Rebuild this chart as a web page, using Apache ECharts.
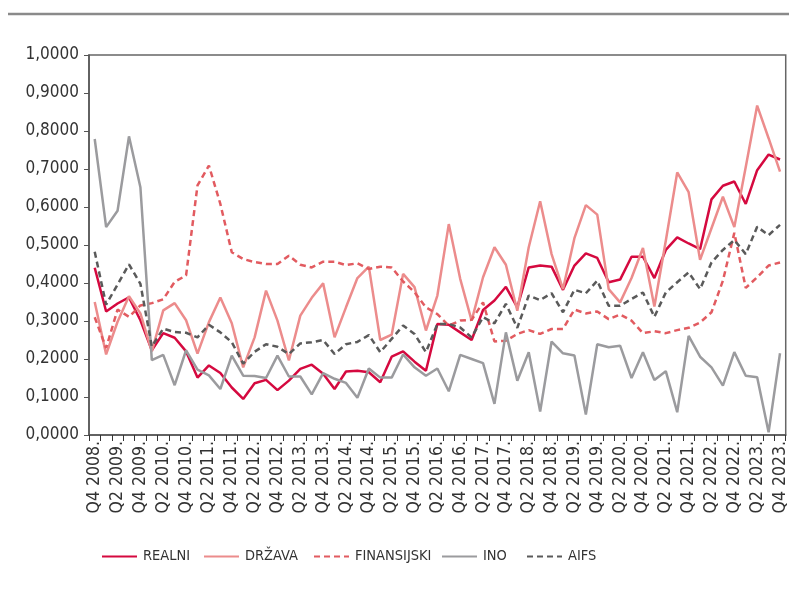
<!DOCTYPE html>
<html>
<head>
<meta charset="utf-8">
<script src="https://cdn.jsdelivr.net/npm/echarts@6/dist/echarts.min.js"></script>
<style>
html,body{margin:0;padding:0;background:#fff;}
#c{width:789px;height:594px;}
</style>
</head>
<body>
<div id="c"></div>
<script>
const categories = [
"Q4 2008.","Q1 2009.","Q2 2009.","Q3 2009.","Q4 2009.",
"Q1 2010.","Q2 2010.","Q3 2010.","Q4 2010.",
"Q1 2011.","Q2 2011.","Q3 2011.","Q4 2011.",
"Q1 2012.","Q2 2012.","Q3 2012.","Q4 2012.",
"Q1 2013.","Q2 2013.","Q3 2013.","Q4 2013.",
"Q1 2014.","Q2 2014.","Q3 2014.","Q4 2014.",
"Q1 2015.","Q2 2015.","Q3 2015.","Q4 2015.",
"Q1 2016.","Q2 2016.","Q3 2016.","Q4 2016.",
"Q1 2017.","Q2 2017.","Q3 2017.","Q4 2017.",
"Q1 2018.","Q2 2018.","Q3 2018.","Q4 2018.",
"Q1 2019.","Q2 2019.","Q3 2019.","Q4 2019.",
"Q1 2020.","Q2 2020.","Q3 2020.","Q4 2020.",
"Q1 2021.","Q2 2021.","Q3 2021.","Q4 2021.",
"Q1 2022.","Q2 2022.","Q3 2022.","Q4 2022.",
"Q1 2023.","Q2 2023.","Q3 2023.","Q4 2023."
];
const realni = [0.440,0.325,0.346,0.362,0.302,0.223,0.268,0.256,0.220,0.151,0.183,0.163,0.125,0.095,0.136,0.145,0.118,0.143,0.174,0.185,0.161,0.121,0.167,0.169,0.165,0.139,0.206,0.220,0.193,0.169,0.292,0.290,0.270,0.250,0.329,0.354,0.390,0.336,0.441,0.446,0.443,0.382,0.446,0.478,0.466,0.402,0.409,0.469,0.469,0.413,0.487,0.520,0.504,0.489,0.620,0.656,0.667,0.608,0.697,0.738,0.725];
const drzava = [0.350,0.212,0.298,0.365,0.320,0.220,0.328,0.347,0.302,0.214,0.297,0.362,0.294,0.178,0.257,0.380,0.301,0.196,0.314,0.361,0.399,0.257,0.336,0.413,0.443,0.250,0.264,0.424,0.389,0.275,0.367,0.555,0.411,0.301,0.415,0.494,0.448,0.327,0.494,0.615,0.476,0.384,0.518,0.605,0.580,0.384,0.349,0.413,0.492,0.338,0.511,0.691,0.639,0.461,0.544,0.627,0.547,0.705,0.867,0.781,0.693];
const finansijski = [0.310,0.229,0.330,0.311,0.341,0.347,0.357,0.403,0.420,0.657,0.709,0.608,0.481,0.463,0.455,0.450,0.450,0.472,0.448,0.441,0.456,0.456,0.447,0.452,0.437,0.443,0.441,0.404,0.376,0.336,0.318,0.288,0.301,0.303,0.349,0.246,0.248,0.266,0.276,0.266,0.279,0.279,0.330,0.320,0.325,0.305,0.317,0.301,0.268,0.273,0.268,0.276,0.282,0.296,0.323,0.406,0.532,0.387,0.415,0.446,0.454];
const ino = [0.779,0.547,0.590,0.786,0.652,0.197,0.211,0.131,0.223,0.172,0.157,0.121,0.209,0.156,0.155,0.150,0.209,0.154,0.154,0.107,0.163,0.148,0.137,0.098,0.175,0.151,0.151,0.212,0.178,0.156,0.175,0.115,0.211,0.200,0.189,0.082,0.270,0.143,0.218,0.062,0.246,0.215,0.209,0.054,0.239,0.231,0.235,0.150,0.218,0.145,0.168,0.060,0.261,0.206,0.178,0.130,0.218,0.156,0.152,0.007,0.215];
const aifs = [0.482,0.343,0.396,0.449,0.398,0.233,0.280,0.271,0.269,0.257,0.290,0.270,0.244,0.188,0.219,0.239,0.232,0.213,0.241,0.244,0.250,0.213,0.239,0.245,0.263,0.218,0.253,0.288,0.266,0.218,0.292,0.292,0.283,0.257,0.310,0.294,0.345,0.282,0.367,0.355,0.373,0.323,0.382,0.373,0.406,0.340,0.340,0.358,0.375,0.311,0.375,0.402,0.428,0.384,0.454,0.487,0.513,0.476,0.548,0.526,0.553];
const seriesNames = ["REALNI","DRŽAVA","FINANSIJSKI","INO","AIFS"];

const FONT = '"Liberation Sans Narrow", "DejaVu Sans Condensed", "Roboto", sans-serif';
const chart = echarts.init(document.getElementById('c'), null, {renderer:'canvas'});
function mk(name, data, color, dashed){
  return {
    name, type:'line', data, symbol:'none', smooth:false,
    lineStyle:{color, width:2.5, type: dashed ? [6,4] : 'solid'},
    itemStyle:{color},
    emphasis:{disabled:true}
  };
}
const legendLeft = [96, 198, 308, 436, 521];
const legends = seriesNames.map((n,i)=>({
  left:legendLeft[i], top:544, itemWidth:35, itemHeight:10, itemGap:0,
  itemStyle:{opacity:0},
  textStyle:{fontFamily:FONT, fontSize:14.5, color:'#333', padding:[0,0,0,1]},
  data:[n], selectedMode:false
}));
chart.setOption({
  animation:false,
  backgroundColor:'#fff',
  graphic:[{type:'line', shape:{x1:8,y1:14,x2:789,y2:14}, style:{stroke:'#8a8a8a', lineWidth:2.5}}],
  grid:{left:89, top:55, right:2, bottom:159, show:true, borderColor:'#666', borderWidth:1.5, backgroundColor:'transparent'},
  xAxis:{
    type:'category', data:categories, boundaryGap:true,
    axisLine:{lineStyle:{color:'#555', width:1.5}},
    axisTick:{show:true, interval:0, length:6, lineStyle:{color:'#333'}},
    axisLabel:{rotate:90, interval:1, fontFamily:FONT, fontSize:17.5, color:'#333', margin:6}
  },
  yAxis:{
    type:'value', min:0, max:1, interval:0.1,
    splitLine:{show:false},
    axisLine:{show:true, lineStyle:{color:'#555', width:1.5}},
    axisTick:{show:true, length:5, lineStyle:{color:'#555'}},
    axisLabel:{fontFamily:FONT, fontSize:17, color:'#333', margin:10,
      formatter:v=>v.toFixed(4).replace('.',',')}
  },
  legend:legends,
  series:[
    mk(seriesNames[0], realni, '#d5093f', false),
    mk(seriesNames[1], drzava, '#ec8c8c', false),
    mk(seriesNames[2], finansijski, '#e25b60', true),
    mk(seriesNames[3], ino, '#9b9b9e', false),
    mk(seriesNames[4], aifs, '#5a5a5a', true)
  ]
});
</script>
</body>
</html>
